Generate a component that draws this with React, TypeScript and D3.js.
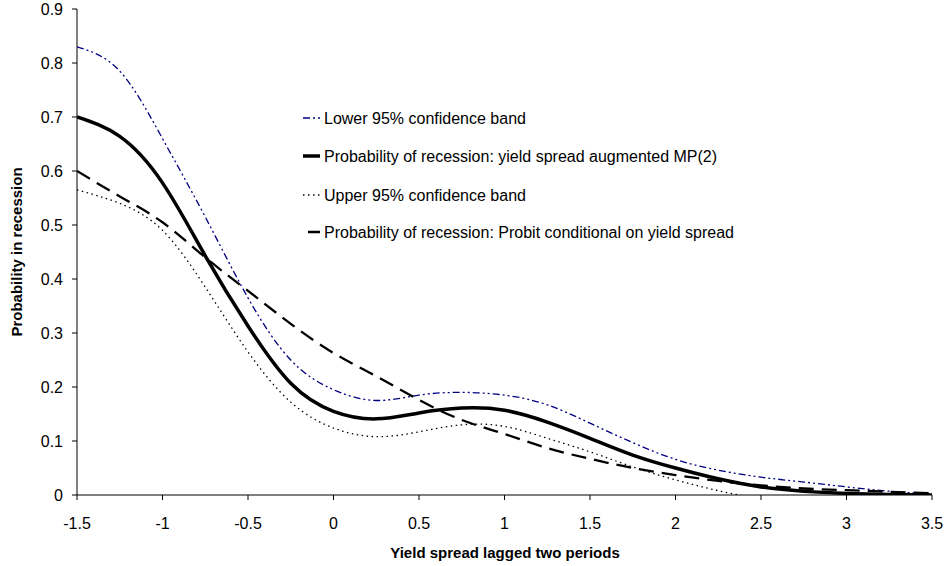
import React from 'react';
import * as d3 from 'd3';

// x values (yield spread lagged two periods)
const xs = [-1.5, -1.25, -1, -0.75, -0.5, -0.25, 0, 0.25, 0.5, 0.75, 1, 1.25, 1.5, 1.75, 2, 2.25, 2.5, 2.75, 3, 3.25, 3.5];

const lowerBand = [0.83, 0.785, 0.66, 0.515, 0.365, 0.25, 0.195, 0.175, 0.185, 0.19, 0.185, 0.167, 0.133, 0.097, 0.066, 0.046, 0.033, 0.024, 0.015, 0.007, 0.002];
const mp2 = [0.7, 0.664, 0.578, 0.443, 0.313, 0.207, 0.155, 0.141, 0.152, 0.161, 0.157, 0.135, 0.105, 0.074, 0.05, 0.03, 0.015, 0.007, 0.003, 0.001, 0];
const upperBand = [0.565, 0.54, 0.49, 0.385, 0.265, 0.172, 0.124, 0.108, 0.117, 0.13, 0.127, 0.105, 0.08, 0.052, 0.028, 0.008, -0.008];
const probit = [0.6, 0.553, 0.505, 0.44, 0.378, 0.317, 0.263, 0.22, 0.176, 0.139, 0.113, 0.087, 0.067, 0.05, 0.037, 0.026, 0.018, 0.012, 0.009, 0.006, 0.003];

const xTicks = [-1.5, -1, -0.5, 0, 0.5, 1, 1.5, 2, 2.5, 3, 3.5];
const yTicks = [0, 0.1, 0.2, 0.3, 0.4, 0.5, 0.6, 0.7, 0.8, 0.9];

const series = [
  { name: 'Lower 95% confidence band', values: lowerBand, color: '#000080', width: 1.3, dash: '7,3,2,3,2,3' },
  { name: 'Probability of recession: yield spread augmented MP(2)', values: mp2, color: '#000', width: 3.5, dash: null },
  { name: 'Upper  95% confidence band', values: upperBand, color: '#000', width: 1.3, dash: '1.5,3.5' },
  { name: 'Probability of recession: Probit conditional on yield spread', values: probit, color: '#000', width: 2.3, dash: '15,8' },
];

const W = 950;
const H = 566;
const margin = { top: 9, right: 18, bottom: 71, left: 77 };
const font = '"Liberation Sans", Arial, sans-serif';

const App: React.FC = () => {
  const x = d3.scaleLinear().domain([-1.5, 3.5]).range([margin.left, W - margin.right]);
  const y = d3.scaleLinear().domain([0, 0.9]).range([H - margin.bottom, margin.top]);

  const line = d3
    .line<[number, number]>()
    .x((d) => x(d[0]))
    .y((d) => y(d[1]))
    .curve(d3.curveNatural);

  const legendX = 303;
  const legendY = [118, 156, 195, 232];

  return (
    <svg width={W} height={H} style={{ position: 'absolute', left: 0, top: 0 }} fontFamily={font}>
      <rect width={W} height={H} fill="#fff" />
      <defs>
        <clipPath id="plot">
          <rect x={margin.left} y={margin.top - 5} width={W - margin.left - margin.right + 2} height={H - margin.top - margin.bottom + 5} />
        </clipPath>
      </defs>

      {/* axes */}
      <line x1={x(-1.5)} x2={x(-1.5)} y1={y(0.9)} y2={y(0)} stroke="#000" strokeWidth={1} />
      <line x1={x(-1.5)} x2={x(3.5)} y1={y(0)} y2={y(0)} stroke="#000" strokeWidth={1} />
      {yTicks.map((t) => (
        <g key={'y' + t}>
          <line x1={x(-1.5) - 5} x2={x(-1.5)} y1={y(t)} y2={y(t)} stroke="#000" />
          <text x={63} y={y(t) + 5.5} textAnchor="end" fontSize={16}>
            {t}
          </text>
        </g>
      ))}
      {xTicks.map((t) => (
        <g key={'x' + t}>
          <line x1={x(t)} x2={x(t)} y1={y(0)} y2={y(0) + 5} stroke="#000" />
          <text x={x(t)} y={529} textAnchor="middle" fontSize={16}>
            {t}
          </text>
        </g>
      ))}

      <text x={505} y={558} textAnchor="middle" fontSize={15} fontWeight="bold">
        Yield spread lagged two periods
      </text>
      <text transform={`translate(22,252) rotate(-90)`} textAnchor="middle" fontSize={15} fontWeight="bold">
        Probability in recession
      </text>

      {/* series */}
      <g clipPath="url(#plot)">
        {series.map((s) => (
          <path
            key={s.name}
            d={line(s.values.map((v, i) => [xs[i], v] as [number, number])) || ''}
            fill="none"
            stroke={s.color}
            strokeWidth={s.width}
            strokeDasharray={s.dash || undefined}
          />
        ))}
      </g>

      {/* legend */}
      {series.map((s, i) => (
        <g key={'l' + i}>
          <line
            x1={legendX}
            x2={legendX + 17}
            y1={legendY[i]}
            y2={legendY[i]}
            stroke={s.color}
            strokeWidth={s.width}
            strokeDasharray={s.dash ? (i === 3 ? '0,5,12,0' : s.dash) : undefined}
          />
          <text x={legendX + 21} y={legendY[i] + 5.5} fontSize={16}>
            {s.name}
          </text>
        </g>
      ))}
    </svg>
  );
};

export default App;
